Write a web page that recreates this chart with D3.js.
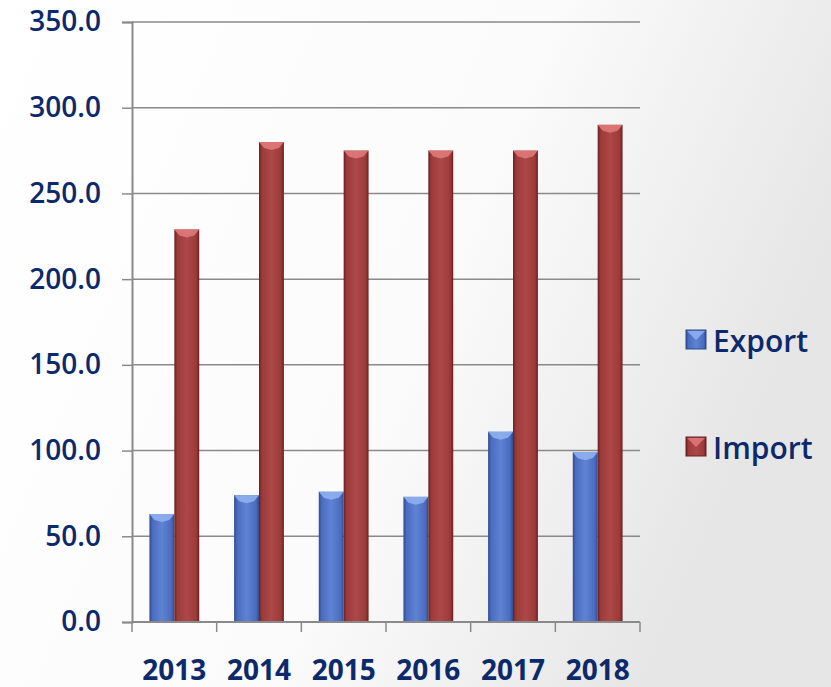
<!DOCTYPE html>
<html>
<head>
<meta charset="utf-8">
<script src="https://cdn.jsdelivr.net/npm/d3@7/dist/d3.min.js"></script>
<style>
  html, body { margin: 0; padding: 0; }
  svg { display: block; }
</style>
</head>
<body>
<script>
// Trade volumes by year
const years = ["2013", "2014", "2015", "2016", "2017", "2018"];
const seriesNames = ["Export", "Import"];
const exportValues = [63, 74, 76, 73, 111, 99];
const importValues = [229, 280, 275, 275, 275, 290];
const yTicks = [0, 50, 100, 150, 200, 250, 300, 350];

const W = 831, H = 687;
const plot = { left: 132, right: 640, top: 22, bottom: 622 };
const navy = "#0c2a6b";
const font = "'Open Sans', 'DejaVu Sans', sans-serif";

const svg = d3.select("body").append("svg").attr("width", W).attr("height", H);
const defs = svg.append("defs");

// soft background wash
const bg = defs.append("linearGradient").attr("id", "bg")
  .attr("x1", "0").attr("y1", "0").attr("x2", "1").attr("y2", "0.35");
bg.append("stop").attr("offset", "0").attr("stop-color", "#ffffff");
bg.append("stop").attr("offset", "0.6").attr("stop-color", "#fbfbfb");
bg.append("stop").attr("offset", "1").attr("stop-color", "#e6e6e6");
svg.append("rect").attr("width", W).attr("height", H).attr("fill", "url(#bg)");

// bar shading: darker sides, lighter middle
const palette = {
  Export: { dark: "#2f4a8f", mid: "#4a6cc0", light: "#5f83d3", top: "#8fb0f0" },
  Import: { dark: "#6a2020", mid: "#9c3a3a", light: "#ad4848", top: "#e07a7a" }
};
seriesNames.forEach(s => {
  const g = defs.append("linearGradient").attr("id", "grad-" + s)
    .attr("x1", "0").attr("x2", "1").attr("y1", "0").attr("y2", "0");
  g.append("stop").attr("offset", "0").attr("stop-color", palette[s].dark);
  g.append("stop").attr("offset", "0.12").attr("stop-color", palette[s].mid);
  g.append("stop").attr("offset", "0.5").attr("stop-color", palette[s].light);
  g.append("stop").attr("offset", "0.88").attr("stop-color", palette[s].mid);
  g.append("stop").attr("offset", "1").attr("stop-color", palette[s].dark);
});

const x = d3.scaleBand().domain(years).range([plot.left, plot.right]).paddingInner(0).paddingOuter(0);
const x1 = d3.scaleBand().domain(seriesNames).range([0, x.bandwidth()]).paddingOuter(0.7).paddingInner(0);
const y = d3.scaleLinear().domain([0, 350]).range([plot.bottom, plot.top]);

// gridlines
svg.append("g").selectAll("line").data(yTicks.slice(1)).join("line")
  .attr("x1", plot.left).attr("x2", plot.right)
  .attr("y1", d => y(d)).attr("y2", d => y(d))
  .attr("stroke", "#8a8a8a").attr("stroke-width", 1.5);

// y axis
const yAxis = svg.append("g").attr("transform", `translate(${plot.left},0)`)
  .call(d3.axisLeft(y).tickValues(yTicks).tickFormat(d3.format(".1f")).tickSize(10).tickPadding(21));
yAxis.select(".domain").attr("stroke", "#8a8a8a").attr("stroke-width", 2);
yAxis.selectAll(".tick line").attr("stroke", "#8a8a8a").attr("stroke-width", 1.5);
yAxis.selectAll("text")
  .attr("fill", navy).attr("font-family", font)
  .attr("font-weight", "600").attr("font-size", "28px");

// bars
const data = years.map((yr, i) => ({ year: yr, values: [
  { key: "Export", value: exportValues[i] },
  { key: "Import", value: importValues[i] }
]}));

const groups = svg.append("g").selectAll("g").data(data).join("g")
  .attr("transform", d => `translate(${x(d.year)},0)`);

const bars = groups.selectAll("g").data(d => d.values).join("g");
bars.append("rect")
  .attr("x", d => x1(d.key)).attr("width", x1.bandwidth())
  .attr("y", d => y(d.value)).attr("height", d => y(0) - y(d.value))
  .attr("fill", d => `url(#grad-${d.key})`);
// bevelled top face
bars.append("path")
  .attr("d", d => {
    const x0 = x1(d.key), w = x1.bandwidth(), t = y(d.value);
    return `M${x0},${t}L${x0 + w},${t}L${x0 + w - 5},${t + 6}L${x0 + w / 2},${t + 8}L${x0 + 5},${t + 6}Z`;
  })
  .attr("fill", d => palette[d.key].top).attr("opacity", 0.9);

// x axis
const xAxis = svg.append("g").attr("transform", `translate(0,${plot.bottom})`);
xAxis.append("line").attr("x1", plot.left).attr("x2", plot.right)
  .attr("stroke", "#8a8a8a").attr("stroke-width", 2);
const xTickPos = years.map(d => x(d)).concat([plot.right]);
xAxis.selectAll("line.tk").data(xTickPos).join("line").attr("class", "tk")
  .attr("x1", d => d).attr("x2", d => d).attr("y1", 0).attr("y2", 10)
  .attr("stroke", "#8a8a8a").attr("stroke-width", 1.5);
xAxis.selectAll("text").data(years).join("text")
  .attr("x", d => x(d) + x.bandwidth() / 2).attr("y", 58)
  .attr("text-anchor", "middle")
  .attr("fill", navy).attr("font-family", font)
  .attr("font-weight", "bold").attr("font-size", "28px")
  .text(d => d);

// legend
const legend = svg.append("g").selectAll("g").data(seriesNames).join("g")
  .attr("transform", (d, i) => `translate(686,${330 + i * 107})`);
legend.append("rect").attr("width", 20).attr("height", 19)
  .attr("fill", d => `url(#grad-${d})`).attr("stroke", d => palette[d].dark).attr("stroke-width", 1);
legend.append("path").attr("d", "M1,1L19,1L10,10Z").attr("fill", d => palette[d].top).attr("opacity", 0.85);
legend.append("text").attr("x", 27).attr("y", 22)
  .attr("fill", navy).attr("font-family", font)
  .attr("font-weight", "600").attr("font-size", "30px")
  .text(d => d);
</script>
</body>
</html>
